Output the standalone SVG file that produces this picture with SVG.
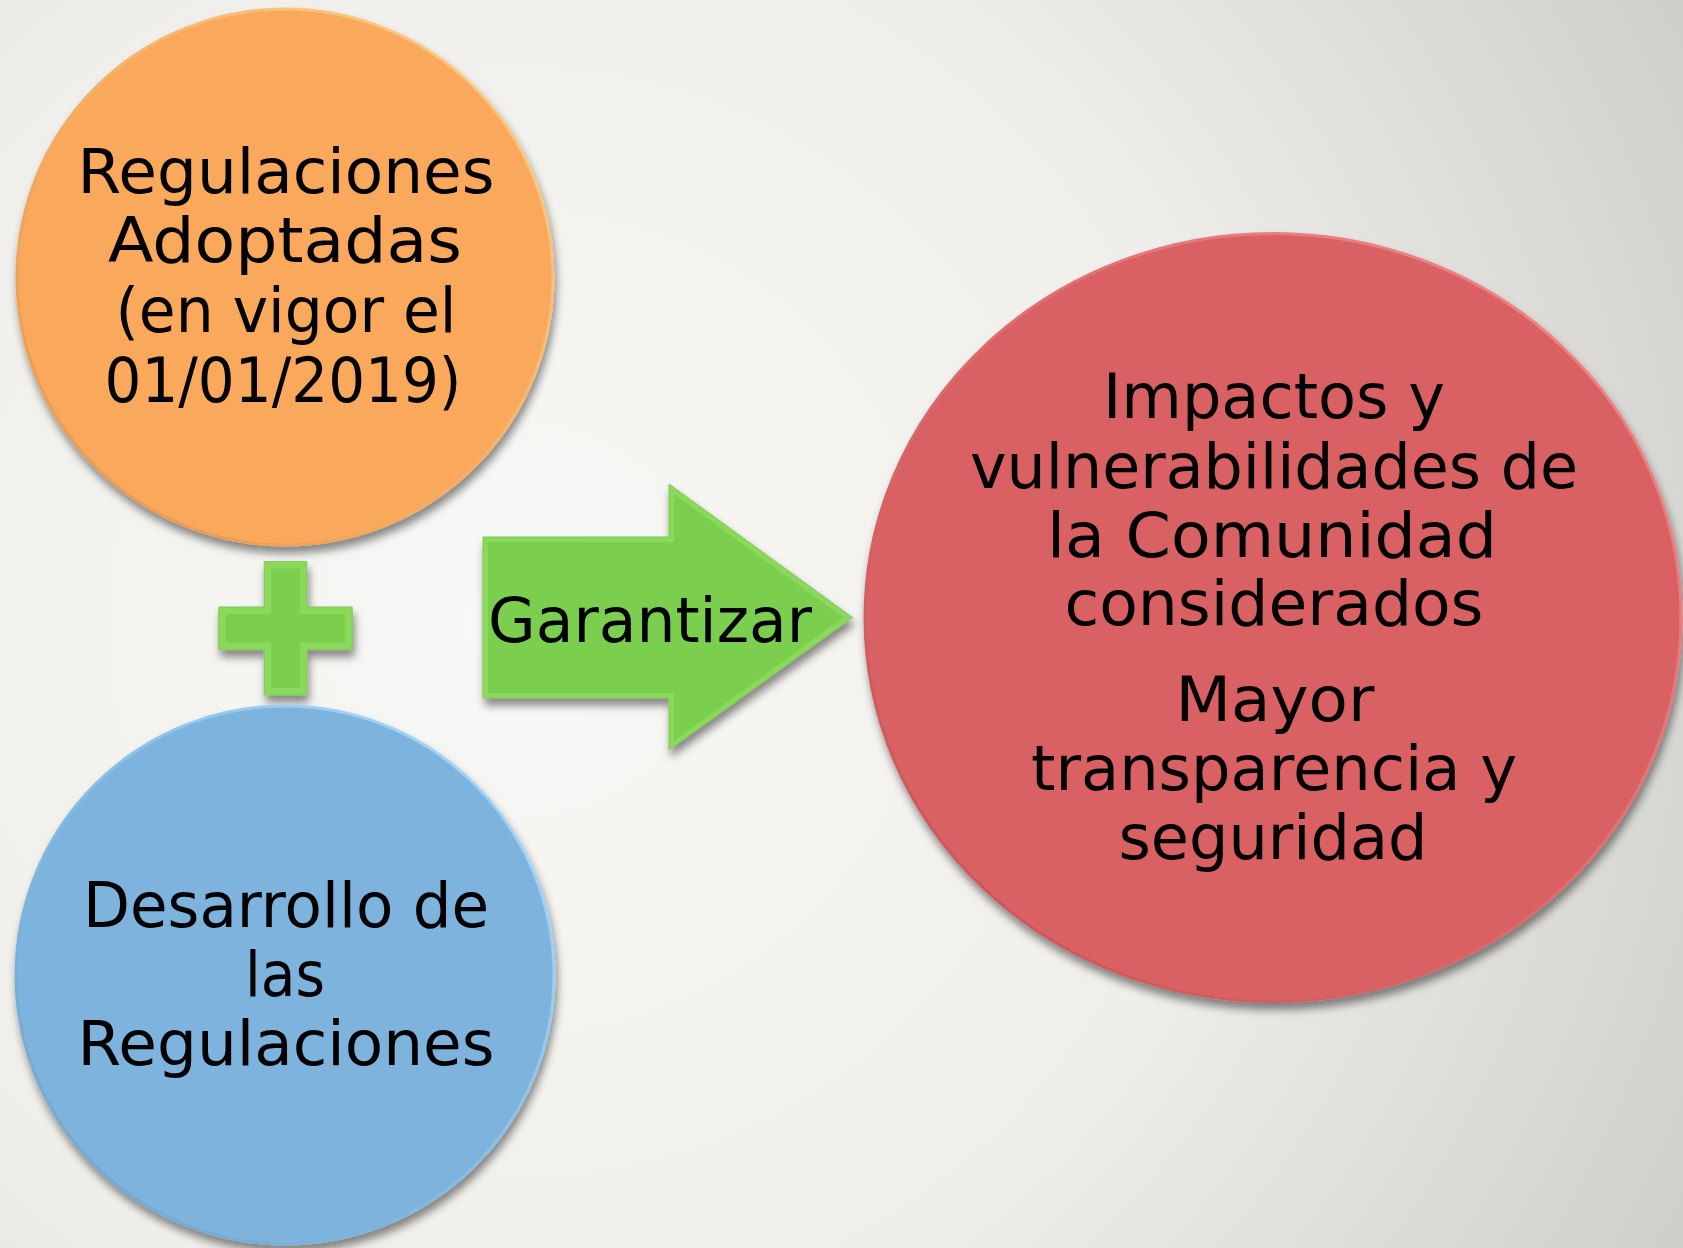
<svg xmlns="http://www.w3.org/2000/svg" width="1683" height="1248" viewBox="0 0 1683 1248">
  <defs>
    <radialGradient id="bg" gradientUnits="userSpaceOnUse" cx="520" cy="620" r="1300">
      <stop offset="0" stop-color="#f8f8f6"/>
      <stop offset="0.55" stop-color="#efeeea"/>
      <stop offset="1" stop-color="#d0d0cb"/>
    </radialGradient>
    <filter id="shadow" x="-10%" y="-10%" width="125%" height="130%">
      <feDropShadow dx="2" dy="7" stdDeviation="4" flood-color="#000" flood-opacity="0.45"/>
    </filter>
    <linearGradient id="rimO" x1="0" y1="1" x2="1" y2="0">
      <stop offset="0" stop-color="#e6934a"/>
      <stop offset="1" stop-color="#ffd08a"/>
    </linearGradient>
    <linearGradient id="rimB" x1="0" y1="1" x2="1" y2="0">
      <stop offset="0" stop-color="#6aa0c8"/>
      <stop offset="1" stop-color="#a9dcff"/>
    </linearGradient>
    <linearGradient id="rimR" x1="0" y1="1" x2="1" y2="0">
      <stop offset="0" stop-color="#c45053"/>
      <stop offset="1" stop-color="#f58a8c"/>
    </linearGradient>
  </defs>
  <style>
    .lbl { font-family: "DejaVu Sans", "Liberation Sans", sans-serif; font-size: 62px; fill: #000; text-anchor: middle; }
  </style>
  <rect x="0" y="0" width="1683" height="1248" fill="url(#bg)"/>

  <g id="node-regulaciones-adoptadas">
    <circle cx="285" cy="277" r="268" fill="#faa95b" stroke="url(#rimO)" stroke-width="3" filter="url(#shadow)"/>
    <text class="lbl" x="286" y="193" textLength="417" lengthAdjust="spacingAndGlyphs">Regulaciones</text>
    <text class="lbl" x="285" y="262" textLength="354" lengthAdjust="spacingAndGlyphs">Adoptadas</text>
    <text class="lbl" x="286" y="332" textLength="341" lengthAdjust="spacingAndGlyphs">(en vigor el</text>
    <text class="lbl" x="283" y="402" textLength="357" lengthAdjust="spacingAndGlyphs">01/01/2019)</text>
  </g>

  <g id="node-plus">
    <polygon points="264.2,561.6 306.8,561.6 306.8,607 352.2,607 352.2,649.6 306.8,649.6 306.8,695 264.2,695 264.2,649.6 218.8,649.6 218.8,607 264.2,607" fill="#8ad95a" stroke="#7fc653" stroke-width="1" filter="url(#shadow)"/>
    <polygon points="271.2,568.6 299.8,568.6 299.8,614 345.2,614 345.2,642.6 299.8,642.6 299.8,688 271.2,688 271.2,642.6 225.8,642.6 225.8,614 271.2,614" fill="#7ccf4e"/>
  </g>

  <g id="node-desarrollo">
    <circle cx="285" cy="975" r="269" fill="#7db3dc" stroke="url(#rimB)" stroke-width="3" filter="url(#shadow)"/>
    <text class="lbl" x="286" y="927" textLength="406" lengthAdjust="spacingAndGlyphs">Desarrollo de</text>
    <text class="lbl" x="285" y="996" textLength="80" lengthAdjust="spacingAndGlyphs">las</text>
    <text class="lbl" x="286" y="1065" textLength="417" lengthAdjust="spacingAndGlyphs">Regulaciones</text>
  </g>

  <g id="connectors">
    <g id="arrow-garantizar">
      <polygon points="483,537 669,537 669,484 852.5,617.5 669,750 669,698 483,698" fill="#8ad95a" stroke="#7fc653" stroke-width="1" filter="url(#shadow)"/>
      <polygon points="488,542 674,542 674,494 843,617.5 674,741 674,693 488,693" fill="#7ccf4e"/>
      <text class="lbl" x="650" y="642" textLength="324" lengthAdjust="spacingAndGlyphs">Garantizar</text>
    </g>
  </g>

  <g id="node-impactos">
    <ellipse cx="1273" cy="617.5" rx="408" ry="384" fill="#d96164" stroke="url(#rimR)" stroke-width="3" filter="url(#shadow)"/>
    <text class="lbl" x="1274" y="418" textLength="342" lengthAdjust="spacingAndGlyphs">Impactos y</text>
    <text class="lbl" x="1274" y="488" textLength="608" lengthAdjust="spacingAndGlyphs">vulnerabilidades de</text>
    <text class="lbl" x="1272" y="557" textLength="450" lengthAdjust="spacingAndGlyphs">la Comunidad</text>
    <text class="lbl" x="1274" y="625" textLength="419" lengthAdjust="spacingAndGlyphs">considerados</text>
    <text class="lbl" x="1275" y="721" textLength="199" lengthAdjust="spacingAndGlyphs">Mayor</text>
    <text class="lbl" x="1274" y="790" textLength="486" lengthAdjust="spacingAndGlyphs">transparencia y</text>
    <text class="lbl" x="1273" y="859" textLength="309" lengthAdjust="spacingAndGlyphs">seguridad</text>
  </g>
</svg>
